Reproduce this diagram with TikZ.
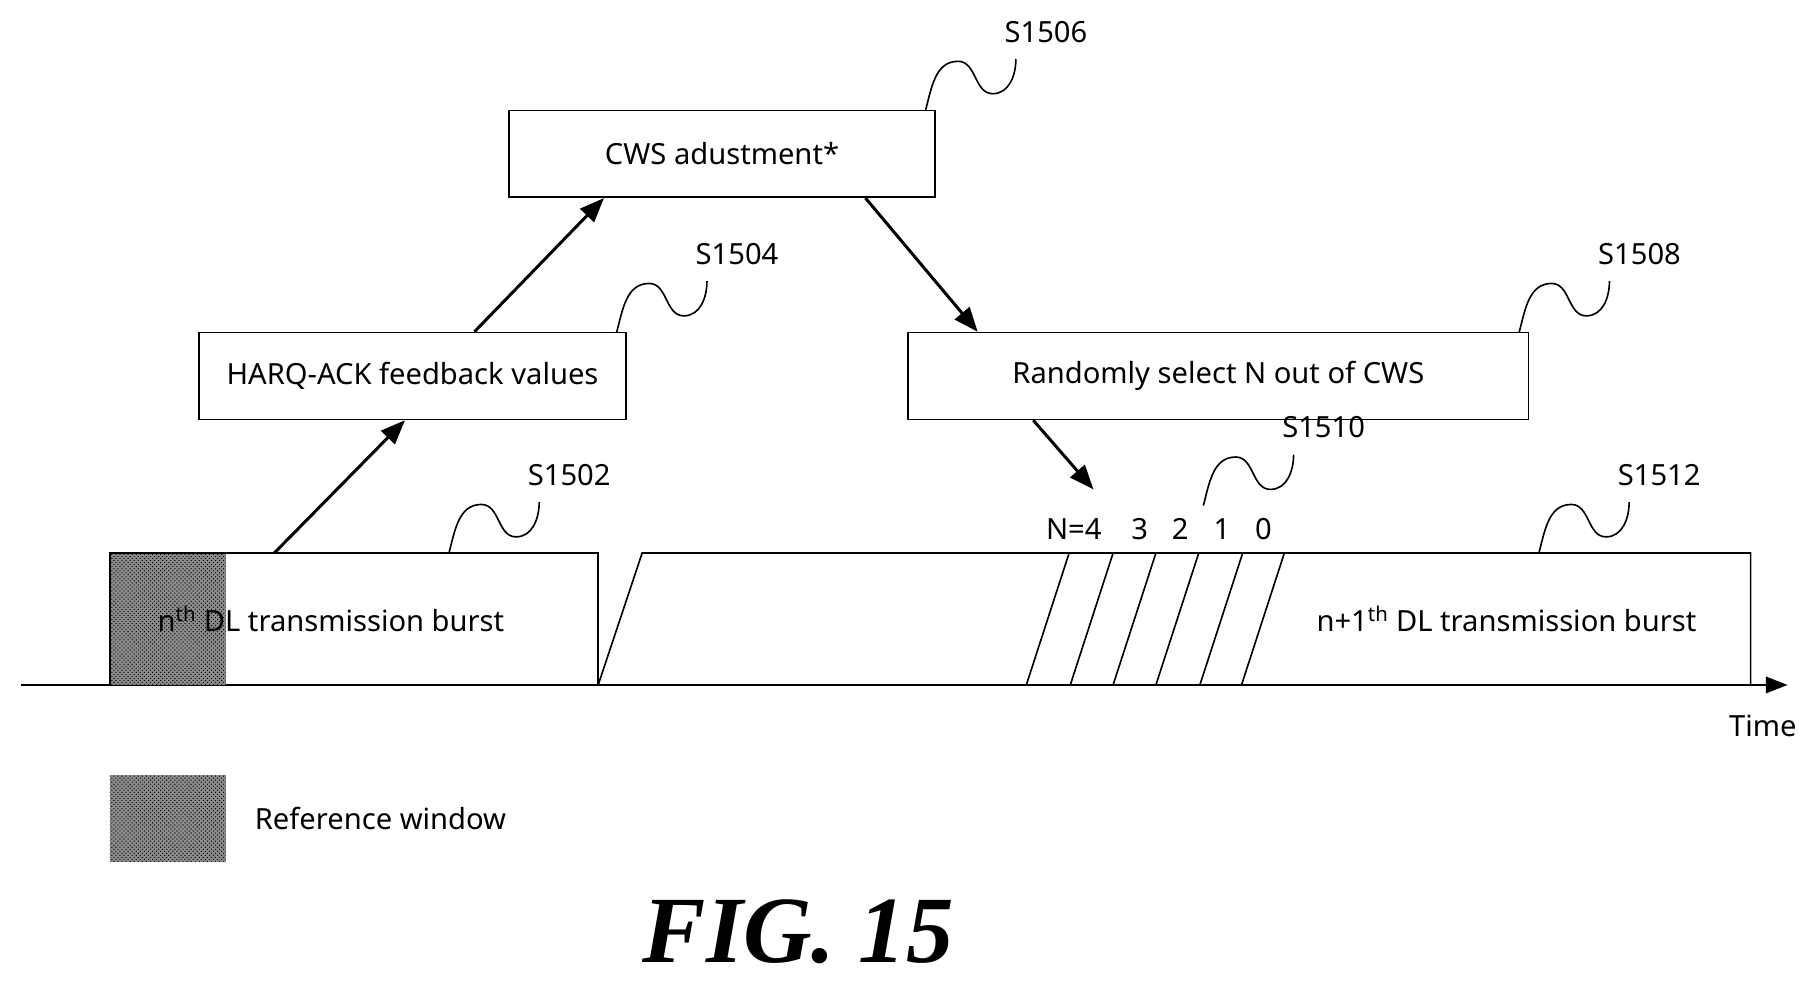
\documentclass[tikz,border=0pt]{standalone}
\usepackage{fontspec}
\setmainfont{Noto Sans}
\newfontfamily\figfont{Liberation Serif}
\usetikzlibrary{arrows.meta,patterns}

\tikzset{
  box/.style={draw,line width=1.2pt,minimum height=75*0.03cm,font=\fontsize{21.5}{26}\selectfont},
  txt/.style={font=\fontsize{21.5}{26}\selectfont,inner sep=0pt},
  flow/.style={-{Triangle[length=18pt,width=14pt]},line width=2.2pt},
  squig/.style={line width=1.2pt},
  refwin/.style={fill=black!45,draw=none},
  refdots/.style={pattern=crosshatch dots,pattern color=black,draw=none}
}
\newcommand{\stepmark}[3]{% start, name, label
  \coordinate (#2s) at (#1);
  \draw[squig] (#2s) to[out=75,in=180] ++(28,42) to[out=0,in=180] ++(30,-28) to[out=0,in=-90] ++(20,30) coordinate (#2e);
  \node[txt,anchor=south west] (#2) at ([shift={(-10,14)}]#2e) {#3};
}

\begin{document}
\begin{tikzpicture}[x=0.03cm,y=0.03cm]
  \useasboundingbox (0,0) rectangle (1560,850);

  % time axis
  \coordinate (t0) at (18,258);
  \coordinate (t1) at (1545,258);
  \draw[line width=1.6pt,-{Triangle[length=16pt,width=12pt]}] (t0) -- (t1);
  \node[txt,anchor=north east] (time) at (1553,232) {Time};

  % n-th burst with reference window
  \fill[refwin] (95,258) rectangle (195,372);
  \path[refdots] (95,258) rectangle (195,372);
  \draw[line width=1.2pt] (95,258) -- (95,372) -- (517,372) -- (517,258);
  \node[txt,anchor=west] (burstn) at (136,315) {n\textsuperscript{th} DL transmission burst};

  % (n+1)-th burst
  \draw[line width=1.2pt] (517,258) -- (555,372) -- (1513,372) -- (1513,258);
  \foreach \x in {887,925,962,999,1037,1073}
    \draw[line width=1.2pt] (\x,258) -- (\x+37,372);
  \node[txt] (burstm) at (1302,315) {n+1\textsuperscript{th} DL transmission burst};
  \foreach \x/\n in {928/N=4,985/3,1020/2,1056/1,1092/0}
    \node[txt] (cnt\x) at (\x,393) {\n};

  % boxes
  \node[box,minimum width=369*0.03cm] (harq) at (356.5,525) {HARQ-ACK feedback values};
  \node[box,minimum width=368*0.03cm] (cws) at (624,717) {CWS adustment*};
  \node[box,minimum width=536*0.03cm] (rnd) at (1053,525) {Randomly select N out of CWS};
  \coordinate (cnt) at (945,427);

  % steps
  \draw[flow] (237,372) -- (harq.south -| 350,0);
  \draw[flow] (harq.north -| 410,0) -- (cws.south -| 522,0);
  \draw[flow] (cws.south -| 748,0) -- (rnd.north -| 845,0);
  \draw[flow] (rnd.south -| 893,0) -- (cnt);

  % step labels
  \stepmark{388,372}{s1502}{S1502}
  \stepmark{533,563}{s1504}{S1504}
  \stepmark{800,755}{s1506}{S1506}
  \stepmark{1313,563}{s1508}{S1508}
  \stepmark{1040,413}{s1510}{S1510}
  \stepmark{1330,372}{s1512}{S1512}

  % legend
  \fill[refwin] (95,105) rectangle (195,180);
  \path[refdots] (95,105) rectangle (195,180);
  \node[txt,anchor=west] (legend) at (220,143) {Reference window};

  \node[font=\figfont\fontsize{70}{80}\selectfont\bfseries\itshape] (fig) at (690,45) {FIG. 15};
\end{tikzpicture}
\end{document}
